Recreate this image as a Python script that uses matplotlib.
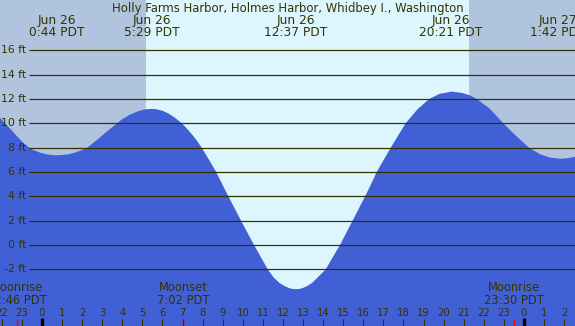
import matplotlib
matplotlib.use("Agg")
import matplotlib.pyplot as plt

# tide curve: hours since Jun 26 00:00 PDT, height in ft
tide_hours = [-2.3, -2.09, -1.84, -1.5, -1.2, -0.9, -0.68, -0.4, -0.1, 0.2, 0.5,
              0.75, 1.0, 1.3, 1.6, 1.95, 2.26, 2.6, 3.0, 3.4, 3.72, 4.0, 4.4,
              4.8, 5.1, 5.3, 5.48, 5.7, 6.0, 6.3, 6.6, 6.96, 7.2, 7.45, 7.7,
              7.95, 8.3, 8.67, 9.28, 9.91, 10.56, 11.24, 11.55, 11.85, 12.05,
              12.3, 12.45, 12.62, 12.8, 13.0, 13.2, 13.45, 13.8, 14.13, 14.84,
              15.47, 16.09, 16.33, 16.67, 17.37, 18.11, 18.7, 19.29, 19.8, 20.4,
              20.9, 21.3, 21.65, 22.3, 22.97, 23.56, 24.25, 24.8, 25.3, 25.8,
              26.2, 26.7]
tide_feet = [10.8, 10.45, 10.0, 9.4, 8.85, 8.35, 8.05, 7.78, 7.59, 7.46, 7.39,
             7.37, 7.39, 7.45, 7.57, 7.77, 8.0, 8.45, 9.0, 9.55, 9.97, 10.35, 10.72,
             11.0, 11.13, 11.17, 11.18, 11.15, 11.03, 10.8, 10.48, 10.0, 9.59, 9.12, 8.6,
             8.0, 7.05, 6.0, 4.0, 2.0, 0.0, -2.0, -2.7, -3.15, -3.35,
             -3.54, -3.61, -3.64, -3.62, -3.53, -3.38, -3.12, -2.55, -2.0, 0.0,
             2.0, 4.0, 4.8, 6.0, 8.0, 10.0, 11.15, 12.0, 12.42, 12.6,
             12.5, 12.3, 12.0, 11.2, 10.0, 9.04, 8.0, 7.46, 7.18, 7.08,
             7.13, 7.3]

sunrise, sunset = 5.18, 21.26

extreme_hours = [0.73, 5.48, 12.62, 20.35, 25.7]
extreme_labels = ["Jun 26\n0:44 PDT", "Jun 26\n5:29 PDT", "Jun 26\n12:37 PDT",
                  "Jun 26\n20:21 PDT", "Jun 27\n1:42 PDT"]

moon_hours = [-1.23, 7.03, 23.5]
moon_labels = ["Moonrise\n22:46 PDT", "Moonset\n7:02 PDT", "Moonrise\n23:30 PDT"]

grid_levels = [-2, 0, 2, 4, 6, 8, 10, 12, 14, 16]
hour_ticks = list(range(-2, 27))

title = "Holly Farms Harbor, Holmes Harbor, Whidbey I., Washington"

NIGHT = "#b0c4de"
DAY = "#ddf6fe"
WATER = "#4160d6"
INK = "#333300"

x_min, x_max = -2.092, 26.544
y_min, y_max = -6.66, 20.13

fig = plt.figure(figsize=(5.75, 3.26), dpi=100)
ax = fig.add_axes([0, 0, 1, 1])
ax.set_xlim(x_min, x_max)
ax.set_ylim(y_min, y_max)
ax.axis("off")

ax.axvspan(x_min, sunrise, color=NIGHT, lw=0)
ax.axvspan(sunrise, sunset, color=DAY, lw=0)
ax.axvspan(sunset, x_max, color=NIGHT, lw=0)

ax.fill_between(tide_hours, tide_feet, y_min, color=WATER, lw=0, zorder=2)

grid_start = -0.65
ax.hlines(grid_levels, grid_start, x_max, colors=INK, linewidth=0.9, zorder=3)
for lvl in grid_levels:
    ax.text(grid_start - 0.12, lvl, f"{lvl} ft", ha="right", va="center",
            fontsize=7.8, color=INK, zorder=4)

ax.text((x_min + x_max) / 2, 19.15, title, ha="center", va="baseline",
        fontsize=8.4, color=INK, zorder=4)
for h, lab in zip(extreme_hours, extreme_labels):
    top, bottom = lab.split("\n")
    ax.text(h, 18.16, top, ha="center", va="baseline", fontsize=8.8, color=INK, zorder=4)
    ax.text(h, 17.17, bottom, ha="center", va="baseline", fontsize=8.8, color=INK, zorder=4)

for h, lab in zip(moon_hours, moon_labels):
    top, bottom = lab.split("\n")
    ax.text(h, -3.80, top, ha="center", va="baseline", fontsize=8.3, color=INK, zorder=4)
    ax.text(h, -4.82, bottom, ha="center", va="baseline", fontsize=8.3, color=INK, zorder=4)
    ax.vlines(h, y_min, -6.08, colors="red", linewidth=1.0, zorder=4)

for h in hour_ticks:
    ax.text(h, -5.83, str(h % 24), ha="center", va="baseline", fontsize=7.3,
            color=INK, zorder=4)
    if h % 24 == 0:
        ax.vlines(h, y_min, -5.98, colors="black", linewidth=2.4, zorder=4)
    else:
        ax.vlines(h, y_min, -6.08, colors=INK, linewidth=0.8, zorder=4)

fig.savefig("out.png", dpi=100)
